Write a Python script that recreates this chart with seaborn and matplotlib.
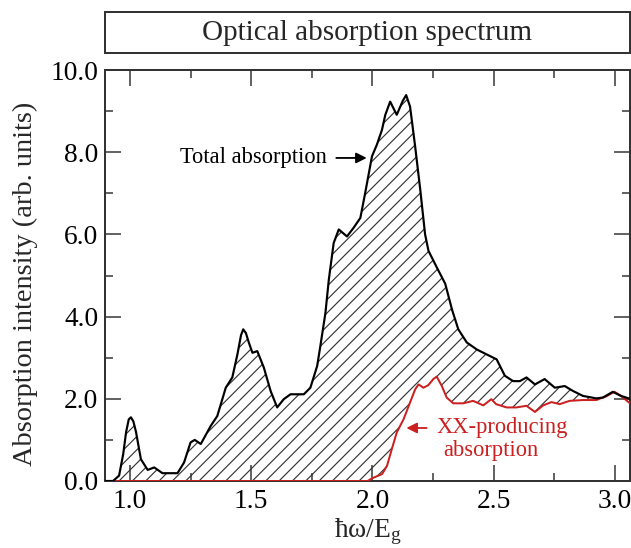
import numpy as np
import pandas as pd
import seaborn as sns
import matplotlib.pyplot as plt
from matplotlib.ticker import MultipleLocator, FormatStrFormatter

# -------- data --------
total_x = [0.897, 0.93, 0.955, 0.972, 0.984, 0.995, 1.004, 1.014, 1.025, 1.045, 1.073, 1.10,
           1.134, 1.196, 1.223, 1.25, 1.267, 1.292, 1.333, 1.36, 1.395, 1.422, 1.443, 1.458,
           1.467, 1.478, 1.49, 1.505, 1.525, 1.552, 1.58, 1.607, 1.634, 1.662, 1.717, 1.744,
           1.772, 1.785, 1.806, 1.82, 1.84, 1.861, 1.895, 1.922, 1.95, 1.97, 1.998, 2.018,
           2.039, 2.053, 2.073, 2.10, 2.125, 2.139, 2.155, 2.176, 2.197, 2.217, 2.231, 2.265,
           2.30, 2.328, 2.354, 2.389, 2.43, 2.471, 2.512, 2.546, 2.58, 2.608, 2.635, 2.67,
           2.71, 2.752, 2.793, 2.827, 2.868, 2.923, 2.95, 2.991, 3.025, 3.062]
total_y = [0.0, 0.0, 0.13, 0.65, 1.19, 1.50, 1.55, 1.45, 1.19, 0.53, 0.27, 0.33,
           0.19, 0.19, 0.45, 0.94, 1.0, 0.90, 1.34, 1.58, 2.27, 2.52, 3.08, 3.55,
           3.69, 3.60, 3.37, 3.12, 3.16, 2.76, 2.19, 1.79, 1.99, 2.11, 2.11, 2.27,
           2.80, 3.28, 4.09, 4.90, 5.79, 6.12, 5.95, 6.16, 6.40, 7.01, 7.90, 8.18,
           8.54, 8.91, 9.23, 8.91, 9.25, 9.39, 9.11, 8.14, 7.09, 6.0, 5.6, 5.2,
           4.8, 4.17, 3.69, 3.37, 3.20, 3.08, 2.96, 2.56, 2.43, 2.43, 2.52, 2.35,
           2.48, 2.27, 2.31, 2.19, 2.07, 2.01, 2.03, 2.17, 2.07, 2.0]

xx_x = [0.897, 1.98, 2.0, 2.04, 2.06, 2.08, 2.10, 2.128, 2.155, 2.176, 2.19, 2.21, 2.23,
        2.251, 2.265, 2.286, 2.306, 2.333, 2.374, 2.415, 2.457, 2.49, 2.51, 2.553, 2.594,
        2.635, 2.67, 2.704, 2.738, 2.772, 2.813, 2.868, 2.923, 2.964, 2.998, 3.025, 3.062]
xx_y = [0.0, 0.0, 0.07, 0.17, 0.37, 0.78, 1.18, 1.50, 1.91, 2.23, 2.35, 2.27, 2.33,
        2.48, 2.54, 2.31, 2.03, 1.89, 1.89, 1.95, 1.84, 1.99, 1.87, 1.79, 1.79,
        1.83, 1.68, 1.84, 1.92, 1.87, 1.95, 1.97, 1.97, 2.06, 2.17, 2.07, 1.89]

x_ticks = [1.0, 1.5, 2.0, 2.5, 3.0]
y_ticks = [0.0, 2.0, 4.0, 6.0, 8.0, 10.0]

title_text = "Optical absorption spectrum"
RED = "#cc2020"

sns.set_theme(style="ticks")
plt.rcParams["font.family"] = ["Liberation Serif", "DejaVu Serif"]
plt.rcParams["mathtext.fontset"] = "custom"
plt.rcParams["mathtext.rm"] = "Liberation Serif"
plt.rcParams["hatch.linewidth"] = 0.7

DPI = 120
fig = plt.figure(figsize=(631 / DPI, 548 / DPI), dpi=DPI)
W, H = 631, 548
ax = fig.add_axes([105 / W, (H - 481) / H, 525 / W, 411 / H])
tax = fig.add_axes([105 / W, (H - 53) / H, 525 / W, 41 / H])

# hatched area between total and XX curves
poly_x = np.concatenate([total_x, xx_x[::-1]])
poly_y = np.concatenate([total_y, xx_y[::-1]])
ax.fill(poly_x, poly_y, facecolor="none", edgecolor="#333333", hatch="///", linewidth=0, zorder=1)

df_tot = pd.DataFrame({"x": total_x, "y": total_y})
df_xx = pd.DataFrame({"x": xx_x, "y": xx_y})
sns.lineplot(data=df_xx, x="x", y="y", ax=ax, color=RED, lw=1.2, estimator=None, sort=False, zorder=3)
sns.lineplot(data=df_tot, x="x", y="y", ax=ax, color="black", lw=1.3, estimator=None, sort=False, zorder=4)
for ln in ax.lines:
    ln.set_solid_joinstyle("round")

ax.set_xlim(0.897, 3.062)
ax.set_ylim(0, 10)
ax.set_xticks(x_ticks)
ax.set_yticks(y_ticks)
ax.xaxis.set_minor_locator(MultipleLocator(0.25))
ax.yaxis.set_minor_locator(MultipleLocator(1.0))
ax.xaxis.set_major_formatter(FormatStrFormatter("%.1f"))
ax.yaxis.set_major_formatter(FormatStrFormatter("%.1f"))
ax.tick_params(which="both", direction="in", top=True, right=True, width=0.9, color="#333333",
               labelsize=16.5, labelcolor="black")
ax.tick_params(which="major", length=9.5)
ax.tick_params(which="minor", length=4.8)
ax.tick_params(axis="y", pad=4)
ax.tick_params(axis="x", pad=5)
for s in ax.spines.values():
    s.set_linewidth(1.2)
    s.set_color("#333333")

ax.set_xlabel(r"ħω/$\mathregular{E_g}$", fontsize=16.5)
ax.set_ylabel("Absorption intensity (arb. units)", fontsize=17)
ax.xaxis.set_label_coords(0.5, -0.085)
ax.yaxis.set_label_coords(-0.128, 0.48)

# annotations
ax.text(1.812, 7.86, "Total absorption", ha="right", va="center", fontsize=13.5, color="black")
ax.annotate("", xy=(1.99, 7.86), xytext=(1.837, 7.86),
            arrowprops=dict(arrowstyle="-|>", color="black", lw=1.1, mutation_scale=13))
ax.text(2.266, 1.31, "XX-producing", ha="left", va="center", fontsize=13.5, color=RED)
ax.text(2.29, 0.75, "absorption", ha="left", va="center", fontsize=13.5, color=RED)
ax.annotate("", xy=(2.126, 1.29), xytext=(2.237, 1.29),
            arrowprops=dict(arrowstyle="-|>", color=RED, lw=1.1, mutation_scale=13))

# title box
tax.set_xticks([])
tax.set_yticks([])
for s in tax.spines.values():
    s.set_linewidth(1.2)
    s.set_color("#333333")
tax.text(0.5, 0.5, title_text, ha="center", va="center", fontsize=17.5, transform=tax.transAxes)

fig.savefig("out.png", dpi=DPI)
